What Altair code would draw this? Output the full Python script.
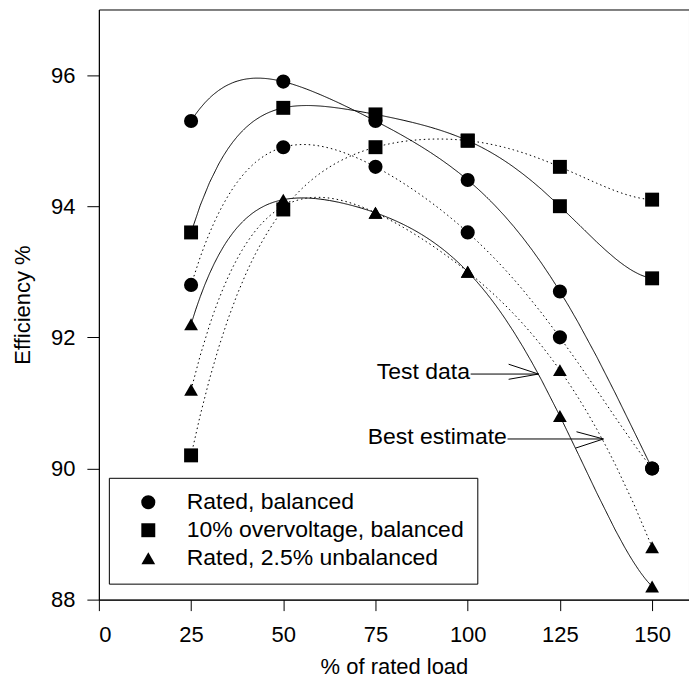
import altair as alt
import pandas as pd

# ---- data ----
load = [25, 50, 75, 100, 125, 150]
series_names = ["Rated, balanced", "10% overvoltage, balanced", "Rated, 2.5% unbalanced"]
series_shapes = ["circle", "square", "triangle-up"]
series_sizes = [200, 190, 300]
kinds = ["Test data", "Best estimate"]

test_rated_bal = [95.3, 95.9, 95.3, 94.4, 92.7, 90.0]
test_over_bal = [93.6, 95.5, 95.4, 95.0, 94.0, 92.9]
test_rated_unbal = [92.2, 94.1, 93.9, 93.0, 90.8, 88.2]

est_rated_bal = [92.8, 94.9, 94.6, 93.6, 92.0, 90.0]
est_over_bal = [90.2, 93.95, 94.9, 95.0, 94.6, 94.1]
est_rated_unbal = [91.2, 94.0, 93.9, 93.0, 91.5, 88.8]

x_ticks = [0, 25, 50, 75, 100, 125, 150]
y_ticks = [88, 90, 92, 94, 96]

# annotations (data coordinates)
ann_text = ["Test data", "Best estimate"]
ann_x = [100.6, 110.6]
ann_y = [91.47, 90.48]

arrow_x = [100.8, 111.1, 111.1, 110.8, 129.5, 129.2]
arrow_x2 = [119.2, 119.2, 119.2, 136.8, 136.8, 136.8]
arrow_y = [91.44, 91.59, 91.36, 90.45, 90.56, 90.31]
arrow_y2 = [91.44, 91.44, 91.44, 90.45, 90.45, 90.45]

# ---- tables ----
rows = []
for kind, sets in [("Test data", [test_rated_bal, test_over_bal, test_rated_unbal]),
                   ("Best estimate", [est_rated_bal, est_over_bal, est_rated_unbal])]:
    for name, vals in zip(series_names, sets):
        for xv, yv in zip(load, vals):
            rows.append({"load": xv, "eff": yv, "series": name, "kind": kind})
df = pd.DataFrame(rows)

ann_df = pd.DataFrame({"load": ann_x, "eff": ann_y, "label": ann_text})
arrow_df = pd.DataFrame({"load": arrow_x, "load2": arrow_x2, "eff": arrow_y, "eff2": arrow_y2})

FONT = "Liberation Sans"

xscale = alt.Scale(domain=[0, 160], nice=False, zero=False)
yscale = alt.Scale(domain=[88, 97], nice=False, zero=False)
xaxis = alt.Axis(values=x_ticks, format="d", tickSize=11, labelPadding=14, titlePadding=11,
                 title="% of rated load")
yaxis = alt.Axis(values=y_ticks, format="d", tickSize=12, labelPadding=12, titlePadding=16,
                 title="Efficiency %")

X = alt.X("load:Q", scale=xscale, axis=xaxis, title="% of rated load")
Y = alt.Y("eff:Q", scale=yscale, axis=yaxis, title="Efficiency %")

lines = (
    alt.Chart(df)
    .transform_calculate(step="datum.load / 25")
    .transform_regression("step", "eff", method="poly", order=5, groupby=["series", "kind"])
    .transform_calculate(load="datum.step * 25")
    .mark_line(color="black", strokeWidth=1)
    .encode(
        x=X,
        y=Y,
        detail="series:N",
        strokeDash=alt.StrokeDash(
            "kind:N",
            scale=alt.Scale(domain=kinds, range=[[1, 0], [1.5, 3]]),
            legend=None,
        ),
    )
)

legend = alt.Legend(
    orient="none", legendX=10, legendY=469,
    strokeColor="black", fillColor="white", padding=13,
    symbolFillColor="black", symbolStrokeColor="black",
    symbolOpacity=1, symbolOffset=15, labelOffset=27,
    labelFont=FONT, labelFontSize=23, labelColor="black", labelLimit=500,
    rowPadding=4, cornerRadius=0,
)

points = (
    alt.Chart(df)
    .mark_point(filled=True, color="black", opacity=1)
    .encode(
        x=X,
        y=Y,
        shape=alt.Shape(
            "series:N",
            scale=alt.Scale(domain=series_names, range=series_shapes),
            title=None,
            legend=legend,
        ),
        size=alt.Size(
            "series:N",
            scale=alt.Scale(domain=series_names, range=series_sizes),
            title=None,
            legend=legend,
        ),
    )
)

texts = (
    alt.Chart(ann_df)
    .mark_text(align="right", baseline="middle", font=FONT, fontSize=23, color="black")
    .encode(x=X, y=Y, text="label:N")
)

arrows = (
    alt.Chart(arrow_df)
    .mark_rule(color="black", strokeWidth=1)
    .encode(x=X, x2="load2:Q", y=Y, y2="eff2:Q")
)

chart = (
    alt.layer(lines, points, texts, arrows)
    .properties(
        width=591, height=591,
        autosize=alt.AutoSizeParams(type="none"),
        padding={"left": 91, "top": 1, "right": 0, "bottom": 79},
    )
    .configure_view(stroke="black", strokeWidth=1)
    .configure_axis(
        labelFont=FONT, titleFont=FONT, labelFontSize=22, titleFontSize=22,
        labelColor="black", titleColor="black", tickColor="black", domainColor="black",
        titleFontWeight="normal", grid=False,
    )
)

chart.save("out.html", embed_options={"renderer": "svg", "actions": False})
